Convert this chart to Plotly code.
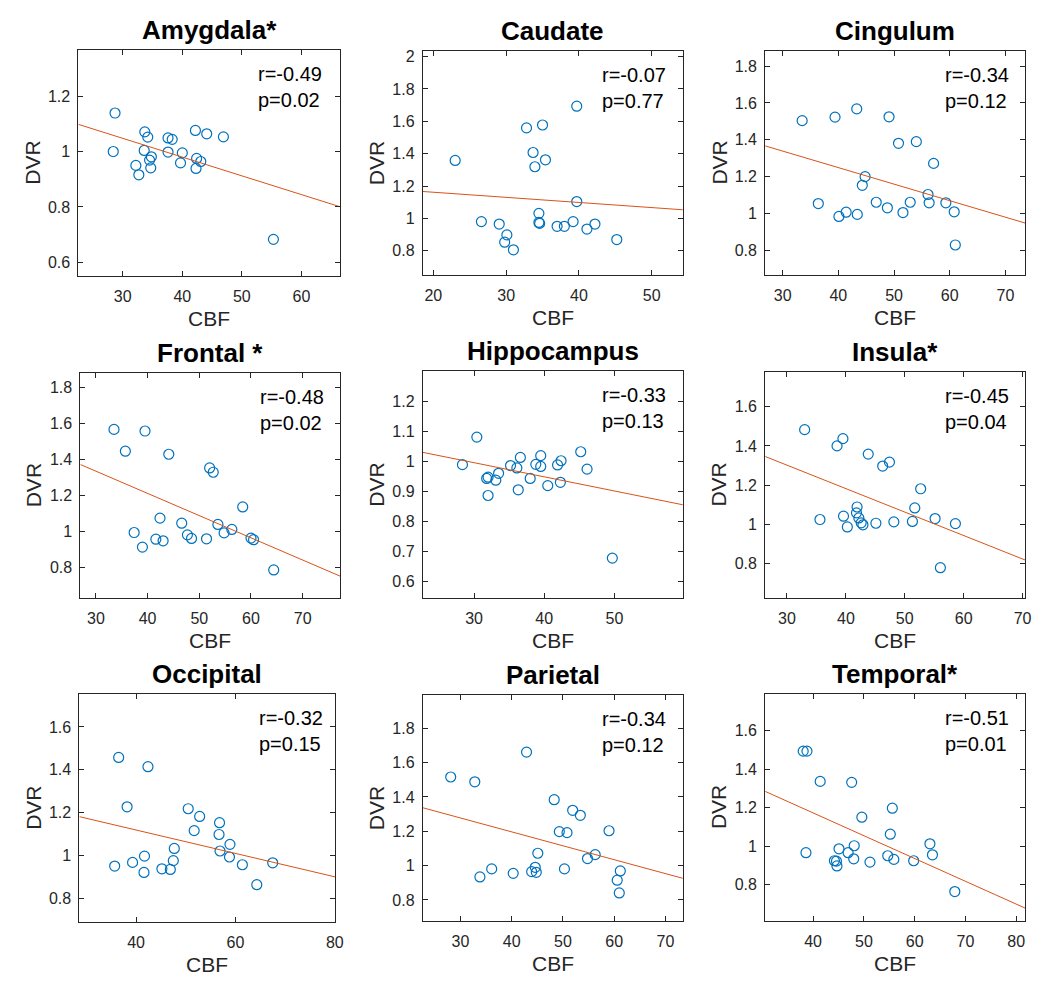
import plotly.graph_objects as go

# ---------------- data ----------------
regions = ["Amygdala*", "Caudate", "Cingulum", "Frontal *", "Hippocampus",
           "Insula*", "Occipital", "Parietal", "Temporal*"]

r_text = ["r=-0.49", "r=-0.07", "r=-0.34", "r=-0.48", "r=-0.33",
          "r=-0.45", "r=-0.32", "r=-0.34", "r=-0.51"]
p_text = ["p=0.02", "p=0.77", "p=0.12", "p=0.02", "p=0.13",
          "p=0.04", "p=0.15", "p=0.12", "p=0.01"]

cbf_amygdala = [28.7, 28.4, 33.7, 34.2, 33.6, 32.2, 32.7, 34.8, 34.5, 34.7, 37.6,
                38.3, 37.6, 40.0, 39.7, 42.2, 44.1, 46.9, 42.4, 43.1, 42.3, 55.3]
dvr_amygdala = [1.139, 1.000, 1.071, 1.052, 1.004, 0.950, 0.916, 0.981, 0.969, 0.941, 1.049,
                1.044, 0.998, 0.995, 0.959, 1.076, 1.064, 1.053, 0.975, 0.964, 0.939, 0.683]

cbf_caudate = [23.0, 26.6, 29.05, 30.1, 29.8, 31.0, 32.8, 35.0, 33.7, 33.95, 35.4,
               39.7, 34.5, 34.5, 34.6, 37.0, 38.0, 39.2, 39.7, 41.1, 42.2, 45.2]
dvr_caudate = [1.358, 0.980, 0.965, 0.898, 0.853, 0.806, 1.559, 1.577, 1.407, 1.319, 1.362,
               1.693, 1.031, 0.975, 0.969, 0.951, 0.951, 0.980, 1.104, 0.934, 0.965, 0.869]

cbf_cingulum = [33.5, 36.4, 39.4, 43.3, 40.1, 41.4, 43.4, 44.8, 44.3, 46.8, 48.8,
                49.1, 50.8, 54.0, 51.6, 52.9, 57.1, 56.1, 56.3, 59.3, 60.8, 61.0]
dvr_cingulum = [1.504, 1.054, 1.523, 1.568, 0.984, 1.007, 0.995, 1.200, 1.153, 1.061, 1.031,
                1.525, 1.381, 1.390, 1.005, 1.061, 1.272, 1.103, 1.058, 1.058, 1.009, 0.829]

cbf_frontal = [33.5, 35.7, 39.5, 44.1, 37.4, 39.0, 41.6, 42.4, 43.0, 46.6, 47.7,
               48.5, 51.4, 52.0, 52.7, 53.6, 54.8, 56.3, 58.4, 60.0, 60.5, 64.4]
dvr_frontal = [1.569, 1.448, 1.560, 1.431, 0.996, 0.915, 0.959, 1.076, 0.950, 1.048, 0.983,
               0.963, 0.961, 1.355, 1.331, 1.041, 0.994, 1.013, 1.138, 0.965, 0.956, 0.788]

cbf_hippocampus = [28.35, 30.4, 31.8, 32.0, 32.0, 33.1, 33.5, 35.2, 36.1, 36.3, 36.6,
                   38.0, 38.8, 39.5, 39.5, 40.5, 41.9, 42.4, 42.3, 45.2, 46.1, 49.7]
dvr_hippocampus = [0.989, 1.081, 0.943, 0.947, 0.886, 0.937, 0.960, 0.986, 0.978, 0.905, 1.013,
                   0.943, 0.990, 1.019, 0.983, 0.919, 0.988, 1.002, 0.930, 1.032, 0.974, 0.677]

cbf_insula = [33.0, 35.6, 38.5, 39.5, 39.6, 40.25, 41.9, 41.8, 42.2, 42.6, 42.9,
              43.8, 45.1, 46.25, 47.4, 48.15, 51.3, 51.7, 52.7, 55.15, 56.05, 58.6]
dvr_insula = [1.483, 1.024, 1.400, 1.437, 1.041, 0.986, 1.088, 1.058, 1.032, 1.007, 0.997,
              1.358, 1.005, 1.297, 1.317, 1.012, 1.014, 1.083, 1.181, 1.029, 0.778, 1.003]

cbf_occipital = [35.7, 36.5, 38.2, 39.3, 41.7, 41.6, 42.4, 45.2, 46.9, 47.5, 47.7,
                 50.5, 51.7, 52.8, 56.8, 56.7, 56.9, 58.9, 58.8, 61.4, 64.3, 67.5]
dvr_occipital = [0.952, 1.458, 1.228, 0.969, 0.998, 0.922, 1.415, 0.939, 0.936, 0.977, 1.034,
                 1.219, 1.117, 1.183, 1.154, 1.099, 1.022, 1.053, 0.994, 0.958, 0.865, 0.967]

cbf_parietal = [28.1, 32.8, 33.8, 36.1, 40.3, 42.9, 43.9, 44.6, 44.8, 45.1, 48.3,
                49.3, 50.8, 50.3, 51.9, 53.4, 54.8, 56.3, 59.0, 61.2, 60.6, 61.0]
dvr_parietal = [1.516, 1.488, 0.934, 0.981, 0.955, 1.661, 0.965, 0.990, 0.961, 1.072, 1.384,
                1.198, 1.192, 0.981, 1.322, 1.293, 1.041, 1.064, 1.203, 0.969, 0.915, 0.841]

cbf_temporal = [38.05, 38.8, 38.6, 41.4, 47.6, 49.6, 55.6, 55.2, 45.1, 44.2, 44.6,
                44.7, 46.9, 48.1, 48.0, 51.2, 54.7, 55.9, 59.8, 63.0, 63.5, 67.9]
dvr_temporal = [1.493, 1.493, 0.966, 1.336, 1.331, 1.150, 1.197, 1.062, 0.986, 0.924, 0.922,
                0.897, 0.966, 1.002, 0.934, 0.917, 0.950, 0.931, 0.924, 1.012, 0.955, 0.764]

cbf_values = [cbf_amygdala, cbf_caudate, cbf_cingulum, cbf_frontal, cbf_hippocampus,
              cbf_insula, cbf_occipital, cbf_parietal, cbf_temporal]
dvr_values = [dvr_amygdala, dvr_caudate, dvr_cingulum, dvr_frontal, dvr_hippocampus,
              dvr_insula, dvr_occipital, dvr_parietal, dvr_temporal]

# fitted regression line (slope, intercept)
fit_slope = [-0.00677, -0.00316, -0.008974, -0.012346, -0.004725,
             -0.011982, -0.005453, -0.008099, -0.011838]
fit_intercept = [1.2507, 1.2247, 1.608, 1.7073, 1.1373,
                 1.6611, 1.338, 1.5204, 1.6459]

# axis limits
x_ranges = [[22.55, 66.55], [18.55, 54.27], [26.86, 73.55], [27.0, 77.3], [22.7, 59.74],
            [26.3, 70.45], [28.6, 80.13], [22.65, 73.4], [30.57, 81.76]]
y_ranges = [[0.55, 1.367], [0.649, 2.035], [0.665, 1.883], [0.631, 1.883], [0.543, 1.302],
            [0.622, 1.778], [0.69, 1.754], [0.676, 1.994], [0.61, 1.79]]

# tick values / labels
x_ticks = [[30, 40, 50, 60], [20, 30, 40, 50], [30, 40, 50, 60, 70], [30, 40, 50, 60, 70],
           [30, 40, 50], [30, 40, 50, 60, 70], [40, 60, 80], [30, 40, 50, 60, 70],
           [40, 50, 60, 70, 80]]
y_ticks = [[0.6, 0.8, 1.0, 1.2],
           [0.8, 1.0, 1.2, 1.4, 1.6, 1.8, 2.0],
           [0.8, 1.0, 1.2, 1.4, 1.6, 1.8],
           [0.8, 1.0, 1.2, 1.4, 1.6, 1.8],
           [0.6, 0.7, 0.8, 0.9, 1.0, 1.1, 1.2],
           [0.8, 1.0, 1.2, 1.4, 1.6],
           [0.8, 1.0, 1.2, 1.4, 1.6],
           [0.8, 1.0, 1.2, 1.4, 1.6, 1.8],
           [0.8, 1.0, 1.2, 1.4, 1.6]]

x_label = "CBF"
y_label = "DVR"

# ---------------- layout geometry (pixels) ----------------
W, H = 1060, 1004
# left, right, top, bottom of each axes box
boxes = [(79, 343, 47, 274), (426, 688, 48, 273), (771, 1033, 48, 273),
         (81, 343, 371, 597), (426, 688, 369, 597), (771, 1033, 370, 597),
         (80, 338, 693, 922), (426, 688, 694, 921), (771, 1033, 693, 921)]

FONT = "Liberation Sans, Arial, Helvetica, sans-serif"
BLUE = "#0072BD"
ORANGE = "#D95319"
AXC = "#262626"


def fmt(v):
    s = ("%.1f" % v)
    return "1" if abs(v - 1) < 1e-9 else ("2" if abs(v - 2) < 1e-9 else s)


fig = go.Figure()
annotations = []
layout = {}

for i in range(9):
    L, R, T, B = boxes[i]
    xa = "x" if i == 0 else "x%d" % (i + 1)
    ya = "y" if i == 0 else "y%d" % (i + 1)
    xkey = "xaxis" if i == 0 else "xaxis%d" % (i + 1)
    ykey = "yaxis" if i == 0 else "yaxis%d" % (i + 1)

    fig.add_trace(go.Scatter(
        x=cbf_values[i], y=dvr_values[i], mode="markers", xaxis=xa, yaxis=ya,
        marker=dict(symbol="circle-open", size=10, color=BLUE, line=dict(width=1.2, color=BLUE)),
        showlegend=False, hoverinfo="x+y"))

    x0, x1 = x_ranges[i]
    fig.add_trace(go.Scatter(
        x=[x0, x1], y=[fit_intercept[i] + fit_slope[i] * x0, fit_intercept[i] + fit_slope[i] * x1],
        mode="lines", xaxis=xa, yaxis=ya, line=dict(color=ORANGE, width=1),
        showlegend=False, hoverinfo="skip"))

    common = dict(showline=True, linecolor=AXC, linewidth=1, mirror="ticks",
                  ticks="inside", ticklen=5, tickwidth=1, tickcolor=AXC,
                  showgrid=False, zeroline=False, fixedrange=True,
                  tickfont=dict(family=FONT, size=16, color=AXC))
    layout[xkey] = dict(common, domain=[L / W, R / W], range=x_ranges[i], anchor=ya,
                        tickmode="array", tickvals=x_ticks[i],
                        ticktext=[str(v) for v in x_ticks[i]], ticklabelstandoff=6)
    layout[ykey] = dict(common, domain=[1 - B / H, 1 - T / H], range=y_ranges[i], anchor=xa,
                        tickmode="array", tickvals=y_ticks[i],
                        ticktext=[fmt(v) for v in y_ticks[i]], ticklabelstandoff=4)

    cx = (L + R) / 2
    # title
    annotations.append(dict(text="<b>%s</b>" % regions[i], x=cx / W, y=1 - (T - 20) / H,
                            xref="paper", yref="paper", xanchor="center", yanchor="middle",
                            showarrow=False, font=dict(family=FONT, size=26, color="black")))
    # axis labels
    annotations.append(dict(text=x_label, x=cx / W, y=1 - (B + 42) / H, xref="paper", yref="paper",
                            xanchor="center", yanchor="middle", showarrow=False,
                            font=dict(family=FONT, size=21, color=AXC)))
    annotations.append(dict(text=y_label, x=(L - 47) / W, y=1 - ((T + B) / 2) / H, xref="paper",
                            yref="paper", xanchor="center", yanchor="middle", showarrow=False,
                            textangle=-90, font=dict(family=FONT, size=21, color=AXC)))
    # r / p text
    annotations.append(dict(text=r_text[i], x=(L + 179) / W, y=1 - (T + 24) / H, xref="paper",
                            yref="paper", xanchor="left", yanchor="middle", showarrow=False,
                            font=dict(family=FONT, size=20, color="black")))
    annotations.append(dict(text=p_text[i], x=(L + 179) / W, y=1 - (T + 50) / H, xref="paper",
                            yref="paper", xanchor="left", yanchor="middle", showarrow=False,
                            font=dict(family=FONT, size=20, color="black")))

fig.update_layout(width=W, height=H, margin=dict(l=0, r=0, t=0, b=0),
                  paper_bgcolor="white", plot_bgcolor="white",
                  annotations=annotations, **layout)

# remove the page's default body margin so the figure sits at the window origin
fig.write_html("out.html", config={"displayModeBar": False},
               post_script="document.body.style.margin='0';document.body.style.overflow='hidden';")
